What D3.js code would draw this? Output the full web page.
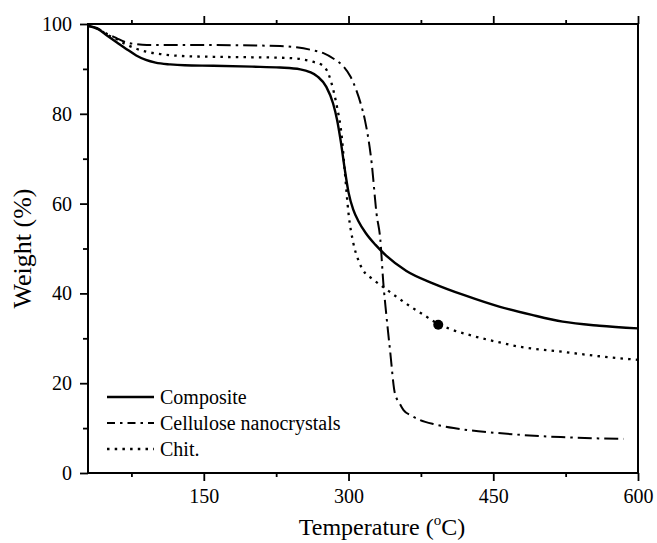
<!DOCTYPE html>
<html>
<head>
<meta charset="utf-8">
<script src="https://cdn.jsdelivr.net/npm/d3@7"></script>
<style>
  html, body { margin: 0; padding: 0; background: #fff; }
  svg { display: block; }
  text { font-family: "Liberation Serif", "DejaVu Serif", serif; fill: #000; }
</style>
</head>
<body>
<svg id="chart" width="657" height="543"></svg>
<script>
// ---- Data ----
const compositeT = [30, 40, 50, 60, 70, 80, 90, 100, 115, 130, 160, 200, 229, 250, 260, 268, 277, 284, 288, 292, 296, 300, 305, 310, 318, 328, 339, 360, 388, 420, 457, 490, 522, 560, 600];
const compositeW = [99.6, 98.9, 97.4, 95.9, 94.4, 93.0, 92.0, 91.4, 91.0, 90.8, 90.7, 90.5, 90.3, 89.9, 89.3, 88.3, 86.0, 82.3, 78.8, 73.8, 67.8, 62.5, 58.6, 56.2, 53.4, 50.8, 48.4, 45.0, 42.2, 39.6, 37.0, 35.2, 33.7, 32.8, 32.2];

const cncT = [30, 40, 50, 60, 67, 80, 91, 160, 229, 246, 262, 274, 285, 295, 302, 308, 313, 317, 324, 329, 333, 336, 339, 343, 348, 353, 357, 365, 374, 390, 409, 440, 478, 520, 560, 585];
const cncW = [99.6, 99.0, 97.8, 96.8, 96.1, 95.5, 95.3, 95.3, 95.1, 94.8, 94.2, 93.5, 92.2, 90.5, 88.3, 85.3, 82.0, 78.6, 69.0, 57.8, 51.9, 42.5, 35.6, 27.4, 17.8, 15.5, 14.0, 12.8, 11.8, 10.8, 10.0, 9.2, 8.5, 8.0, 7.7, 7.6];

const chitT = [30, 40, 50, 60, 70, 80, 91, 105, 125, 160, 195, 229, 250, 263, 273, 279, 284, 288, 293, 296, 300, 305, 310, 315, 325, 336, 350, 364, 378, 393, 405, 426, 454, 478, 522, 560, 600];
const chitW = [99.6, 99.0, 97.6, 96.6, 95.4, 94.5, 93.8, 93.3, 92.9, 92.7, 92.6, 92.5, 92.2, 91.6, 90.8, 89.0, 85.5, 81.6, 74.9, 67.5, 57.8, 51.2, 47.5, 45.2, 43.2, 41.4, 39.2, 37.1, 35.2, 33.2, 32.1, 30.7, 29.2, 28.1, 27.0, 26.0, 25.2];

const markerT = [393];
const markerW = [33.0];

const seriesNames = ["Composite", "Cellulose nanocrystals", "Chit."];
const xTicks = [150, 300, 450, 600];
const xMinorTicks = [75, 225, 375, 525];
const yTicks = [0, 20, 40, 60, 80, 100];
const yMinorTicks = [10, 30, 50, 70, 90];
const xDomain = [30, 600];
const yDomain = [0, 100];

// ---- Layout ----
const svg = d3.select("#chart");
const pLeft = 88, pRight = 638, pTop = 24, pBottom = 473;
const x = d3.scaleLinear().domain(xDomain).range([pLeft, pRight]);
const y = d3.scaleLinear().domain(yDomain).range([pBottom, pTop]);

const styles = [
  { dash: null, width: 2.4 },
  { dash: "14,5,2.5,5", width: 2 },
  { dash: "2.5,5.2", width: 2.3 }
];

const series = [
  d3.zip(compositeT, compositeW),
  d3.zip(cncT, cncW),
  d3.zip(chitT, chitW)
];

const line = d3.line()
  .x(d => x(d[0]))
  .y(d => y(d[1]))
  .curve(d3.curveMonotoneX);

const plot = svg.append("g");
series.forEach((s, i) => {
  plot.append("path")
    .datum(s)
    .attr("d", line)
    .attr("fill", "none")
    .attr("stroke", "#000")
    .attr("stroke-width", styles[i].width)
    .attr("stroke-dasharray", styles[i].dash)
    .attr("stroke-linejoin", "round");
});

// marker
plot.selectAll("circle.mk")
  .data(d3.zip(markerT, markerW))
  .enter().append("circle")
  .attr("cx", d => x(d[0]))
  .attr("cy", d => y(d[1]))
  .attr("r", 5)
  .attr("fill", "#000");

// ---- Axes ----
const fontSize = 20;
function styleAxis(g) {
  g.selectAll(".domain").remove();
  g.selectAll(".tick line").attr("stroke", "#000").attr("stroke-width", 1.8);
  g.selectAll(".tick text").style("font-size", fontSize + "px").style("font-family", '"Liberation Serif", serif');
}

// bottom
svg.append("g").attr("transform", `translate(0,${pBottom})`)
  .call(d3.axisBottom(x).tickValues(xTicks).tickSize(8).tickPadding(8).tickFormat(d3.format("d")))
  .call(styleAxis);
svg.append("g").attr("transform", `translate(0,${pBottom})`)
  .call(d3.axisBottom(x).tickValues(xMinorTicks).tickSize(4).tickFormat(""))
  .call(styleAxis);
// top
svg.append("g").attr("transform", `translate(0,${pTop})`)
  .call(d3.axisTop(x).tickValues(xTicks).tickSize(8).tickFormat(""))
  .call(styleAxis);
svg.append("g").attr("transform", `translate(0,${pTop})`)
  .call(d3.axisTop(x).tickValues(xMinorTicks).tickSize(4).tickFormat(""))
  .call(styleAxis);
// left
svg.append("g").attr("transform", `translate(${pLeft},0)`)
  .call(d3.axisLeft(y).tickValues(yTicks).tickSize(8).tickPadding(8).tickFormat(d3.format("d")))
  .call(styleAxis);
svg.append("g").attr("transform", `translate(${pLeft},0)`)
  .call(d3.axisLeft(y).tickValues(yMinorTicks).tickSize(5).tickFormat(""))
  .call(styleAxis);

// frame
svg.append("rect")
  .attr("x", pLeft).attr("y", pTop)
  .attr("width", pRight - pLeft).attr("height", pBottom - pTop)
  .attr("fill", "none").attr("stroke", "#000").attr("stroke-width", 2);

// ---- Axis titles ----
const xt = svg.append("text")
  .attr("x", 382)
  .attr("y", 535)
  .attr("text-anchor", "middle")
  .style("font-size", "24px");
xt.append("tspan").text("Temperature (");
xt.append("tspan").text("o").style("font-size", "15px").attr("dy", -10);
xt.append("tspan").text("C)").attr("dy", 10);

svg.append("text")
  .attr("transform", `translate(31,${(pTop + pBottom) / 2}) rotate(-90)`)
  .attr("text-anchor", "middle")
  .style("font-size", "26px")
  .text("Weight (%)");

// ---- Legend ----
const legY = [397, 423, 449];
const leg = svg.append("g");
seriesNames.forEach((name, i) => {
  leg.append("line")
    .attr("x1", 107).attr("x2", 154)
    .attr("y1", legY[i]).attr("y2", legY[i])
    .attr("stroke", "#000")
    .attr("stroke-width", styles[i].width)
    .attr("stroke-dasharray", i === 1 ? "8,5,2.5,5" : styles[i].dash);
  leg.append("text")
    .attr("x", 160).attr("y", legY[i])
    .attr("dy", "0.35em")
    .style("font-size", "20px")
    .text(name);
});
</script>
</body>
</html>
